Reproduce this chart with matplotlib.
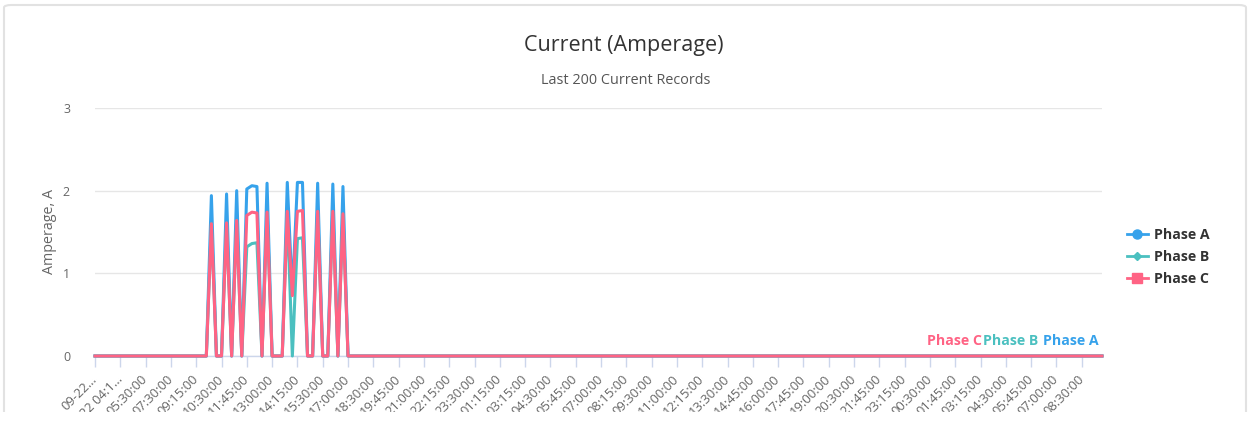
import numpy as np
import matplotlib
matplotlib.use("Agg")
import matplotlib.pyplot as plt
from matplotlib.lines import Line2D
from matplotlib.patches import Rectangle, FancyBboxPatch

plt.rcParams['font.family'] = ['Open Sans', 'DejaVu Sans']

# last 200 current records, only a short burst of load near the start
phase_a = [0] * 23 + [1.94, 0, 0, 1.96, 0, 2.00, 0, 2.02, 2.06, 2.05, 0, 2.09, 0, 0, 0,
                      2.10, 0.75, 2.10, 2.10, 0, 0, 2.09, 0, 0, 2.08, 0, 2.05] + [0] * 150
phase_b = [0] * 23 + [1.60, 0, 0, 1.61, 0, 1.64, 0, 1.32, 1.36, 1.37, 0, 1.74, 0, 0, 0,
                      1.75, 0, 1.42, 1.43, 0, 0, 1.75, 0, 0, 1.75, 0, 1.72] + [0] * 150
phase_c = [0] * 23 + [1.60, 0, 0, 1.61, 0, 1.64, 0, 1.70, 1.74, 1.73, 0, 1.74, 0, 0, 0,
                      1.75, 0.73, 1.75, 1.76, 0, 0, 1.75, 0, 0, 1.75, 0, 1.72] + [0] * 150

tick_labels = ["09-22…", "22 04:1…", "05:30:00", "07:30:00", "09:15:00", "10:30:00",
               "11:45:00", "13:00:00", "14:15:00", "15:30:00", "17:00:00", "18:30:00",
               "19:45:00", "21:00:00", "22:15:00", "23:30:00", "01:15:00", "03:15:00",
               "04:30:00", "05:45:00", "07:00:00", "08:15:00", "09:30:00", "11:00:00",
               "12:15:00", "13:30:00", "14:45:00", "16:00:00", "17:45:00", "19:00:00",
               "20:30:00", "21:45:00", "23:15:00", "00:30:00", "01:45:00", "03:15:00",
               "04:30:00", "05:45:00", "07:00:00", "08:30:00"]

series = [("Phase A", phase_a, "#36a2eb", "o", 6.5),
          ("Phase B", phase_b, "#4bc0c0", "D", 4.5),
          ("Phase C", phase_c, "#ff6384", "s", 6.5)]

W, H = 1249, 428
fig = plt.figure(figsize=(W / 100, H / 100), dpi=100)
fig.patch.set_facecolor("white")

# card frame
fig.add_artist(FancyBboxPatch((4 / W, -0.1), 1242 / W, 1 - 5 / H + 0.1,
                              boxstyle="round,pad=0,rounding_size=0.006",
                              transform=fig.transFigure, facecolor="white",
                              edgecolor="#e2e2e2", lw=1.5, zorder=-1))

ax = fig.add_axes([95 / W, (H - 356) / H, (1102 - 95) / W, (356 - 108) / H])
ax.set_facecolor("none")

x = np.arange(len(phase_a))
for name, vals, col, mk, ms in series:
    ax.plot(x, vals, color=col, lw=2.2, clip_on=False, solid_joinstyle="round", zorder=3)

ax.set_xlim(0, len(phase_a) - 1)
ax.set_ylim(0, 3)
ax.set_yticks([0, 1, 2, 3])
ax.grid(axis="y", color="#e6e6e6", lw=1)
ax.set_axisbelow(True)

for s in ["top", "right", "left"]:
    ax.spines[s].set_visible(False)
ax.spines["bottom"].set_color("#ccd6eb")
ax.spines["bottom"].set_linewidth(1)

ticks = x[::5]
ax.set_xticks(ticks)
ax.set_xticklabels(tick_labels, rotation=45, ha="right", va="center",
                   rotation_mode="anchor", color="#666666", fontsize=9.4)
ax.tick_params(axis="x", length=8.2, width=1, color="#ccd6eb", pad=7)
ax.tick_params(axis="y", length=0, pad=18, labelcolor="#666666", labelsize=9)

ax.set_ylabel("Amperage, A", color="#666666", fontsize=10.3, labelpad=4)

# series labels at the right end of the lines
offsets = {"Phase A": -3, "Phase B": -64, "Phase C": -120}
for name, vals, col, mk, ms in series:
    ax.annotate(name, xy=(x[-1], vals[-1]), xytext=(offsets[name], 15),
                textcoords="offset pixels", ha="right", va="center",
                color=col, fontsize=10.2, fontweight="bold", annotation_clip=False)

handles = [Line2D([], [], color=col, lw=2, marker=mk, markersize=ms)
           for name, vals, col, mk, ms in series]
leg = fig.legend(handles, [s[0] for s in series], loc="center left",
                 bbox_to_anchor=(1127 / W, (H - 257) / H), frameon=False,
                 fontsize=10.2, handlelength=1.45, handletextpad=0.45,
                 labelspacing=0.58, borderpad=0, borderaxespad=0)
for t in leg.get_texts():
    t.set_color("#333333")
    t.set_fontweight("bold")

fig.text(624 / W, 1 - 45 / H, "Current (Amperage)", ha="center", va="center",
         fontsize=15.5, color="#333333")
fig.text(626 / W, 1 - 80 / H, "Last 200 Current Records", ha="center", va="center",
         fontsize=10.4, color="#555555")

# the card is cut off at the bottom
fig.add_artist(Rectangle((0, 0), 1, (H - 412) / H, transform=fig.transFigure,
                         facecolor="white", edgecolor="none", zorder=10))

fig.savefig("out.png", dpi=100)
